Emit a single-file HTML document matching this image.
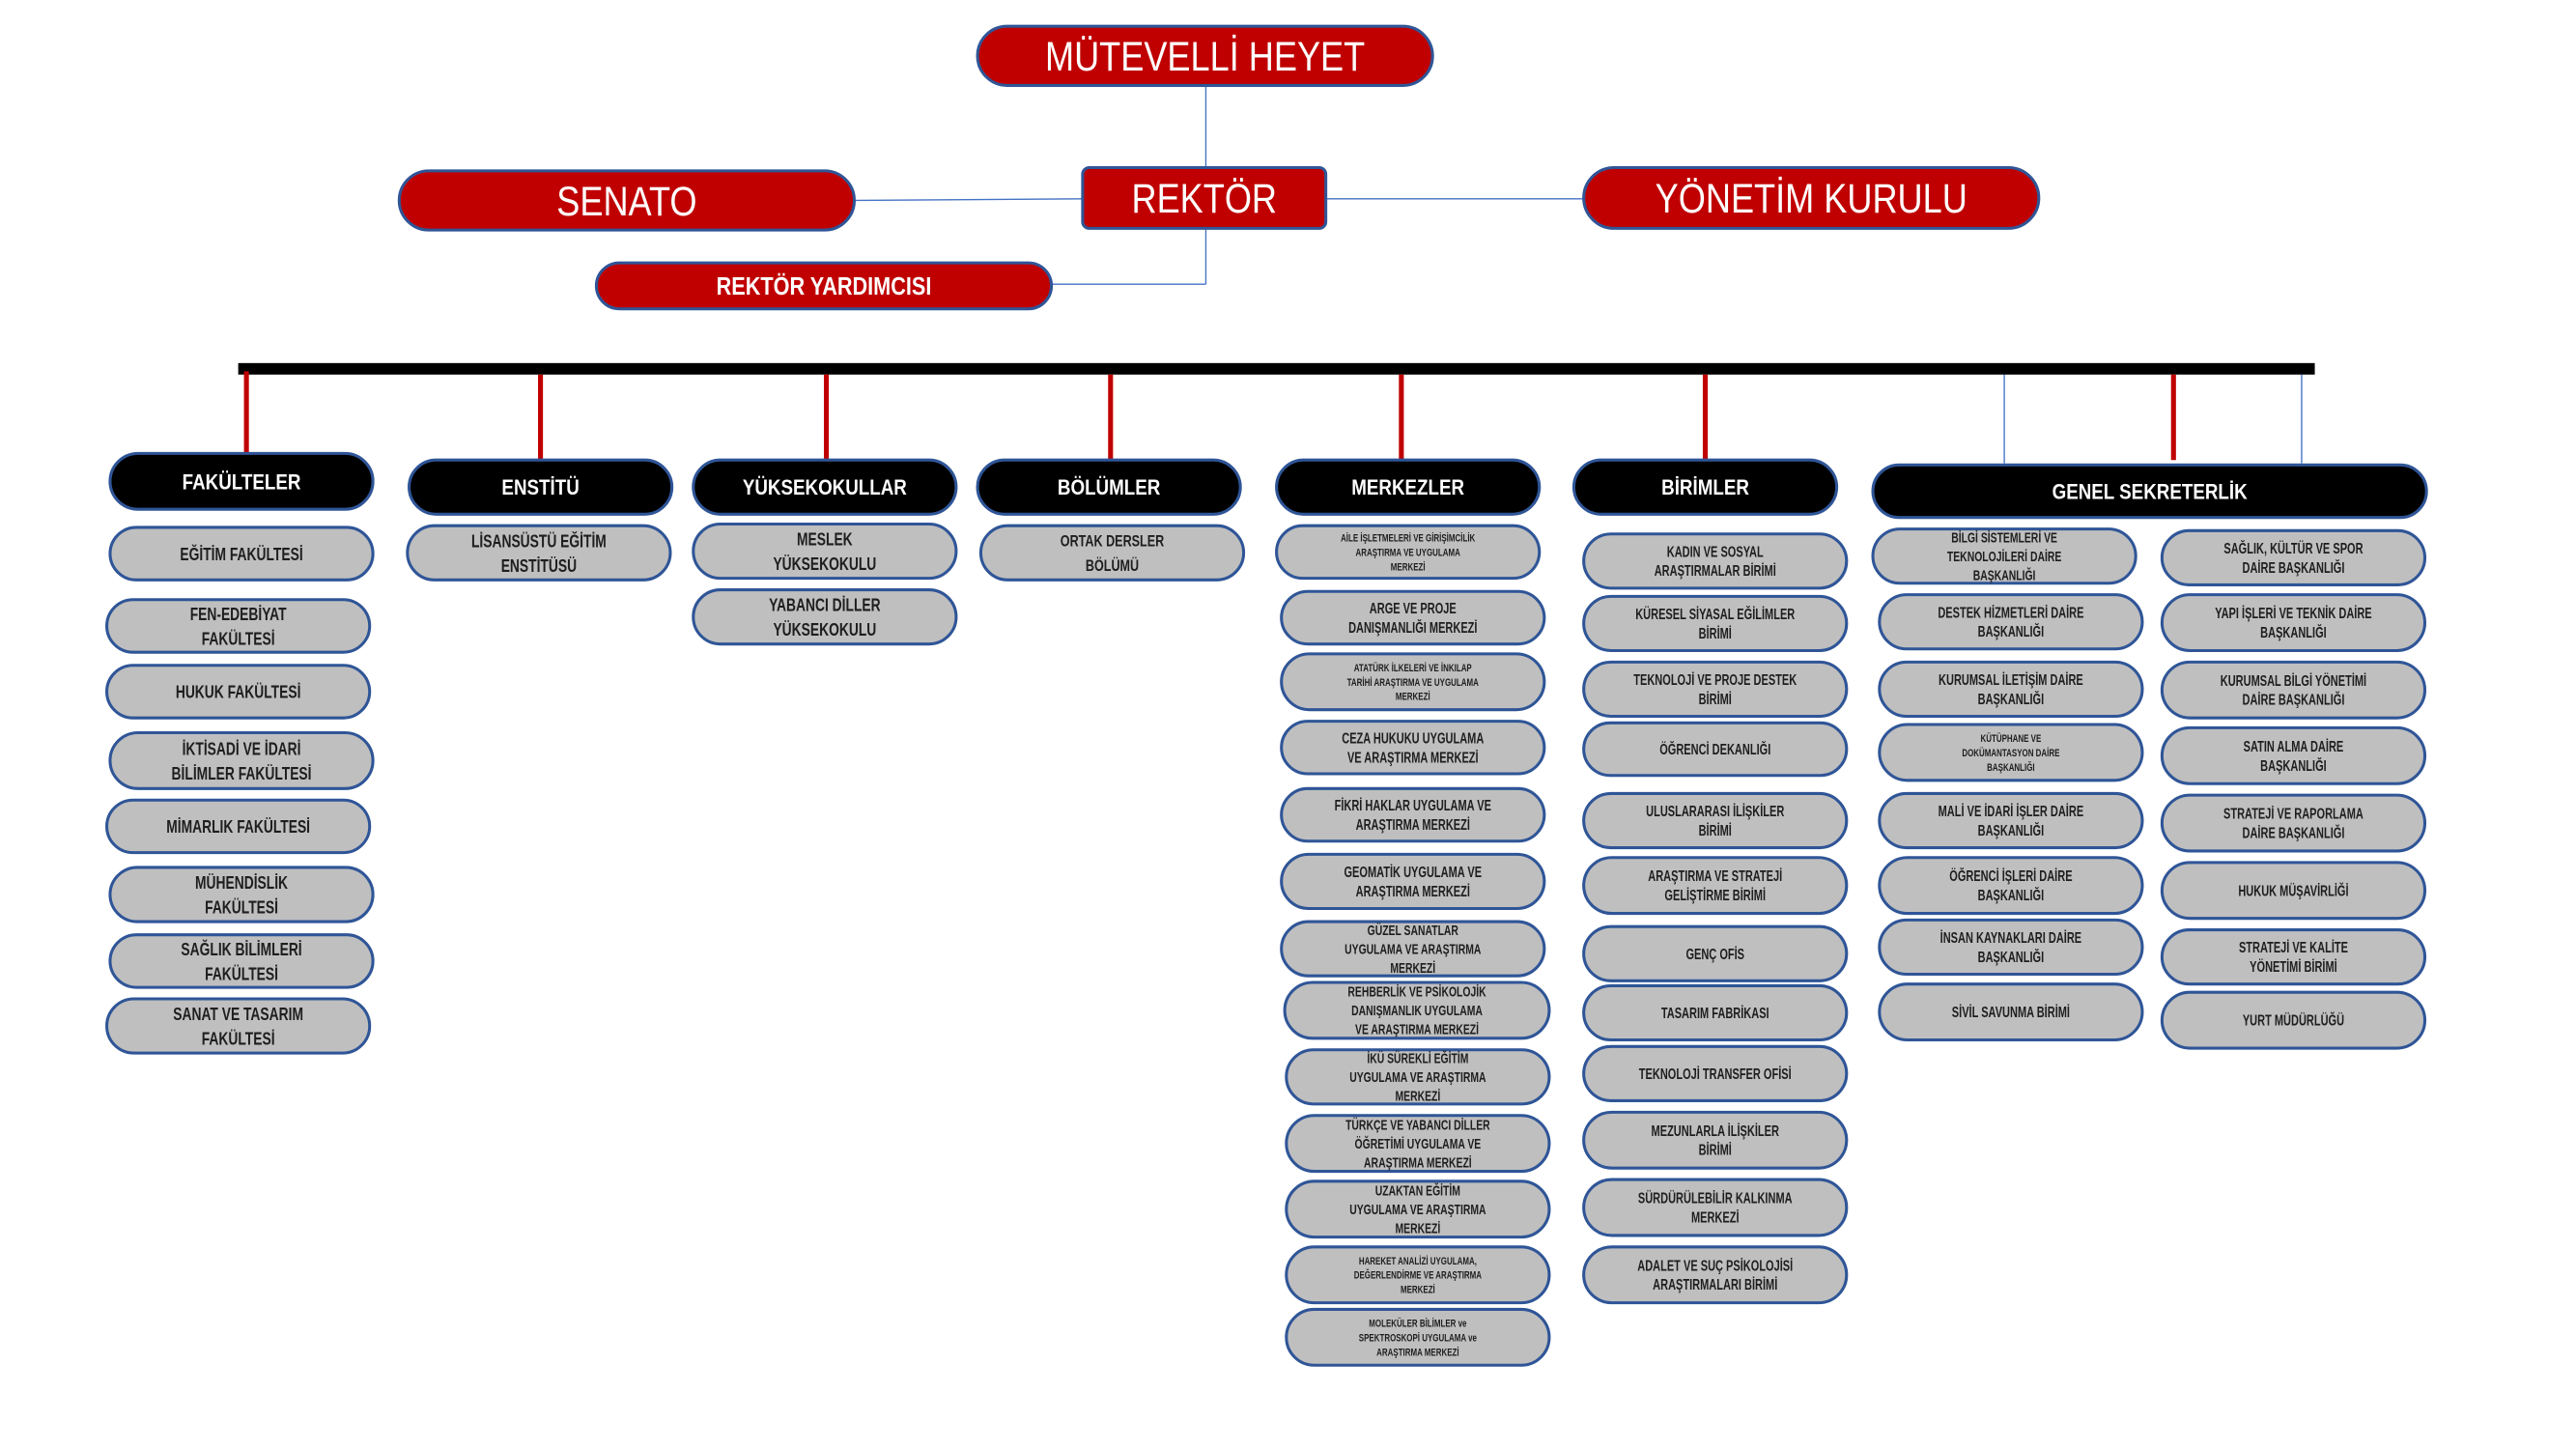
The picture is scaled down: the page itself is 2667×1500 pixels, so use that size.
<!DOCTYPE html>
<html><head><meta charset="utf-8"><style>
html,body{margin:0;padding:0;background:#fff;}
svg{display:block;}
text{font-family:"Liberation Sans",sans-serif;}
</style></head><body>
<svg id="s" width="2667" height="1500" viewBox="0 0 1568 882" preserveAspectRatio="none" xmlns="http://www.w3.org/2000/svg">
<g stroke="#4472c4" stroke-width="0.8" fill="none">
<line x1="734" y1="52" x2="734" y2="102"/>
<line x1="734" y1="139" x2="734" y2="173"/>
<line x1="640" y1="173" x2="734" y2="173"/>
<line x1="520" y1="122" x2="659" y2="121"/>
<line x1="807" y1="121" x2="964" y2="121"/>
<line x1="1220" y1="228" x2="1220" y2="282"/>
<line x1="1401" y1="228" x2="1401" y2="282"/>
</g>
<rect x="145" y="221" width="1264" height="7" fill="#000"/>
<g stroke="#c00000" stroke-width="3">
<line x1="150" y1="226" x2="150" y2="276"/>
<line x1="329" y1="228" x2="329" y2="280"/>
<line x1="503" y1="228" x2="503" y2="280"/>
<line x1="676" y1="228" x2="676" y2="280"/>
<line x1="853" y1="228" x2="853" y2="280"/>
<line x1="1038" y1="228" x2="1038" y2="280"/>
<line x1="1323" y1="228" x2="1323" y2="280"/>
</g>
<g id="n"></g>
</svg>
<script>
var g=document.getElementById('n'),NS='http://www.w3.org/2000/svg';
function el(t,a,p){var e=document.createElementNS(NS,t);for(var k in a)e.setAttribute(k,a[k]);(p||g).appendChild(e);return e;}
function node(x1,y1,x2,y2,lines,o){
 o=o||{};var h=y2-y1,r=o.rect?4:h/2;
 el('rect',{x:x1,y:y1,width:x2-x1,height:h,rx:r,ry:r,fill:o.fill||'#bfbfbf',stroke:'#2f5597','stroke-width':o.sw||1.8});
 var fs=o.fs||(lines.length>2?7.2:9.6),lh=o.lh||fs*1.2,cx=(x1+x2)/2,cy=(y1+y2)/2;
 var top=cy-(lines.length-1)*lh/2;
 lines.forEach(function(L,i){
  var gg=el('g',{transform:'translate('+cx+','+(top+i*lh+fs*0.36)+') scale('+(o.sx||0.82)+',1)'});
  var t=el('text',{x:0,y:0,'text-anchor':'middle','font-size':fs,fill:o.color||'#1e1e1e','font-weight':o.bold?'bold':'normal'},gg);
  t.textContent=L;
 });
}
var R={fill:'#c00000',color:'#fff',sx:0.85};
node(595,16,872,52,['MÜTEVELLİ HEYET'],Object.assign({fs:25},R));
node(659,102,807,139,['REKTÖR'],Object.assign({fs:25,rect:1},R));
node(243,104,520,140,['SENATO'],Object.assign({fs:25},R));
node(964,102,1241,139,['YÖNETİM KURULU'],Object.assign({fs:25},R));
node(363,160,640,188,['REKTÖR YARDIMCISI'],Object.assign({fs:15,bold:1},R));
var B={fill:'#000',color:'#fff',fs:13,bold:1,sx:0.85};
node(67,276,227,310,['FAKÜLTELER'],B);
node(249,280,409,313,['ENSTİTÜ'],B);
node(422,280,582,313,['YÜKSEKOKULLAR'],B);
node(595,280,755,313,['BÖLÜMLER'],B);
node(777,280,937,313,['MERKEZLER'],B);
node(958,280,1118,313,['BİRİMLER'],B);
node(1140,283,1477,315,['GENEL SEKRETERLİK'],B);
[[67,321,227,353,['EĞİTİM FAKÜLTESİ']],[65,365,225,397,['FEN-EDEBİYAT','FAKÜLTESİ']],[65,405,225,437,['HUKUK FAKÜLTESİ']],
[67,446,227,480,['İKTİSADİ VE İDARİ','BİLİMLER FAKÜLTESİ']],[65,487,225,519,['MİMARLIK FAKÜLTESİ']],[67,528,227,561,['MÜHENDİSLİK','FAKÜLTESİ']],
[67,569,227,601,['SAĞLIK BİLİMLERİ','FAKÜLTESİ']],[65,608,225,641,['SANAT VE TASARIM','FAKÜLTESİ']],
[248,320,408,353,['LİSANSÜSTÜ EĞİTİM','ENSTİTÜSÜ']],[422,319,582,352,['MESLEK','YÜKSEKOKULU']],[422,359,582,392,['YABANCI DİLLER','YÜKSEKOKULU']],
[597,320,757,353,['ORTAK DERSLER','BÖLÜMÜ'],{fs:10}]
].forEach(function(a){node(a[0],a[1],a[2],a[3],a[4],Object.assign({fs:11,lh:15,bold:1,sx:0.74},a[5]||{}));});
var M=[[777,320,937,352,['AİLE İŞLETMELERİ VE GİRİŞİMCİLİK','ARAŞTIRMA VE UYGULAMA','MERKEZİ'],6.5],
[780,360,940,392,['ARGE VE PROJE','DANIŞMANLIĞI MERKEZİ']],[780,398,940,432,['ATATÜRK İLKELERİ VE İNKILAP','TARİHİ ARAŞTIRMA VE UYGULAMA','MERKEZİ'],6.5],
[780,439,940,471,['CEZA HUKUKU UYGULAMA','VE ARAŞTIRMA MERKEZİ']],[780,480,940,512,['FİKRİ HAKLAR UYGULAMA VE','ARAŞTIRMA MERKEZİ']],
[780,520,940,553,['GEOMATİK UYGULAMA VE','ARAŞTIRMA MERKEZİ']],[780,561,940,594,['GÜZEL SANATLAR','UYGULAMA VE ARAŞTIRMA','MERKEZİ'],8.5],
[782,598,943,632,['REHBERLİK VE PSİKOLOJİK','DANIŞMANLIK UYGULAMA','VE ARAŞTIRMA MERKEZİ'],8.5],[783,639,943,672,['İKÜ SÜREKLİ EĞİTİM','UYGULAMA VE ARAŞTIRMA','MERKEZİ'],8.5],
[783,679,943,713,['TÜRKÇE VE YABANCI DİLLER','ÖĞRETİMİ UYGULAMA VE','ARAŞTIRMA MERKEZİ'],8.5],[783,719,943,753,['UZAKTAN EĞİTİM','UYGULAMA VE ARAŞTIRMA','MERKEZİ'],8.5],
[783,759,943,793,['HAREKET ANALİZİ UYGULAMA,','DEĞERLENDİRME VE ARAŞTIRMA','MERKEZİ'],6.5],[783,797,943,831,['MOLEKÜLER BİLİMLER ve','SPEKTROSKOPİ UYGULAMA ve','ARAŞTIRMA MERKEZİ'],6.5]];
var Bi=[['KADIN VE SOSYAL','ARAŞTIRMALAR BİRİMİ'],['KÜRESEL SİYASAL EĞİLİMLER','BİRİMİ'],['TEKNOLOJİ VE PROJE DESTEK','BİRİMİ'],['ÖĞRENCİ DEKANLIĞI'],['ULUSLARARASI İLİŞKİLER','BİRİMİ'],['ARAŞTIRMA VE STRATEJİ','GELİŞTİRME BİRİMİ'],['GENÇ OFİS'],['TASARIM FABRİKASI'],['TEKNOLOJİ TRANSFER OFİSİ'],['MEZUNLARLA İLİŞKİLER','BİRİMİ'],['SÜRDÜRÜLEBİLİR KALKINMA','MERKEZİ'],['ADALET VE SUÇ PSİKOLOJİSİ','ARAŞTIRMALARI BİRİMİ']];
var By=[[325,358],[363,396],[403,436],[440,472],[483,516],[522,556],[564,597],[600,633],[637,670],[677,711],[718,752],[759,793]];
Bi.forEach(function(l,i){M.push([964,By[i][0],1124,By[i][1],l]);});
var GL=[['BİLGİ SİSTEMLERİ VE','TEKNOLOJİLERİ DAİRE','BAŞKANLIĞI'],['DESTEK HİZMETLERİ DAİRE','BAŞKANLIĞI'],['KURUMSAL İLETİŞİM DAİRE','BAŞKANLIĞI'],['KÜTÜPHANE VE','DOKÜMANTASYON DAİRE','BAŞKANLIĞI'],['MALİ VE İDARİ İŞLER DAİRE','BAŞKANLIĞI'],['ÖĞRENCİ İŞLERİ DAİRE','BAŞKANLIĞI'],['İNSAN KAYNAKLARI DAİRE','BAŞKANLIĞI'],['SİVİL SAVUNMA BİRİMİ']];
var GLy=[[322,355],[362,395],[403,436],[441,475],[483,516],[522,556],[560,593],[599,633]];
GL.forEach(function(l,i){M.push([1140+(i?4:0),GLy[i][0],1300+(i?4:0),GLy[i][1],l,i==0?8.5:(i==3?6.5:null)]);});
var GR=[['SAĞLIK, KÜLTÜR VE SPOR','DAİRE BAŞKANLIĞI'],['YAPI İŞLERİ VE TEKNİK DAİRE','BAŞKANLIĞI'],['KURUMSAL BİLGİ YÖNETİMİ','DAİRE BAŞKANLIĞI'],['SATIN ALMA DAİRE','BAŞKANLIĞI'],['STRATEJİ VE RAPORLAMA','DAİRE BAŞKANLIĞI'],['HUKUK MÜŞAVİRLİĞİ'],['STRATEJİ VE KALİTE','YÖNETİMİ BİRİMİ'],['YURT MÜDÜRLÜĞÜ']];
var GRy=[[323,356],[362,396],[403,437],[443,477],[484,518],[525,559],[566,599],[604,638]];
GR.forEach(function(l,i){M.push([1316,GRy[i][0],1476,GRy[i][1],l]);});
M.forEach(function(a){var fs=a[5]||(a[4].length>2?8.5:9),lh=a[4].length>2?fs*1.35:fs*1.3;node(a[0],a[1],a[2],a[3],a[4],{fs:fs,lh:lh,sx:0.72,bold:1});});
</script>
</body></html>
